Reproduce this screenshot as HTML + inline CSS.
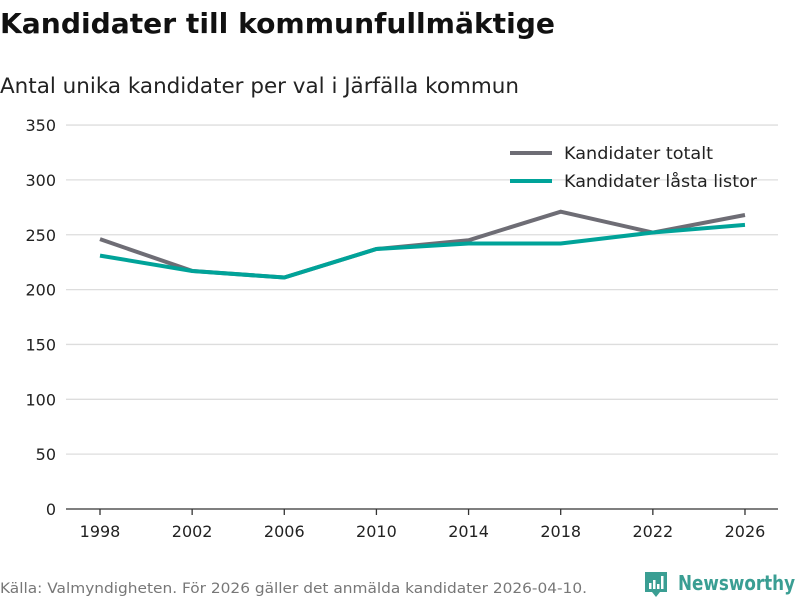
<!DOCTYPE html>
<html><head><meta charset="utf-8"><style>
body{margin:0;background:#fff;font-family:"DejaVu Sans","Liberation Sans",sans-serif;}
svg text{font-family:"DejaVu Sans","Liberation Sans",sans-serif;}
</style></head><body>
<svg id="c" width="800" height="600" xmlns="http://www.w3.org/2000/svg">
<text x="0" y="33" font-size="28" font-weight="bold" fill="#111" textLength="555" lengthAdjust="spacingAndGlyphs">Kandidater till kommunfullmäktige</text>
<text x="0" y="93" font-size="21" fill="#222" textLength="519" lengthAdjust="spacingAndGlyphs">Antal unika kandidater per val i Järfälla kommun</text>
<g id="grid"></g><g id="lines"></g>
<g>
<line x1="510" y1="153" x2="552" y2="153" stroke="#6e6d75" stroke-width="4"/>
<text x="564" y="159" font-size="17" fill="#222" textLength="149" lengthAdjust="spacingAndGlyphs">Kandidater totalt</text>
<line x1="510" y1="181" x2="552" y2="181" stroke="#00a399" stroke-width="4"/>
<text x="564" y="187" font-size="17" fill="#222" textLength="193" lengthAdjust="spacingAndGlyphs">Kandidater låsta listor</text>
</g>
<text x="0" y="593" font-size="14.5" fill="#777" textLength="587" lengthAdjust="spacingAndGlyphs">Källa: Valmyndigheten. För 2026 gäller det anmälda kandidater 2026-04-10.</text>
<g>
<path d="M645 572 h22 v20 h-7 l-4 5 l-4 -5 h-7 z" fill="#3a9e93"/>
<rect x="649" y="583" width="2.5" height="6" fill="#fff"/><rect x="653" y="580" width="2.5" height="9" fill="#fff"/><rect x="657" y="584" width="2.5" height="5" fill="#fff"/><rect x="661" y="576" width="2.5" height="13" fill="#fff"/>
<text x="678" y="590" font-size="20" font-weight="bold" fill="#3a9e93" textLength="117" lengthAdjust="spacingAndGlyphs">Newsworthy</text>
</g>
</svg>
<script>
const years=["1998","2002","2006","2010","2014","2018","2022","2026"];
const totalt=[246,217,211,237,245,271,252,268];
const lasta=[231,217,211,237,242,242,252,259];
const yTicks=[0,50,100,150,200,250,300,350];
const NS="http://www.w3.org/2000/svg";
const x=i=>100+i*92.14;
const y=v=>509-v*1.097;
const grid=document.getElementById('grid'),lines=document.getElementById('lines');
function mk(t,a,p){const e=document.createElementNS(NS,t);for(const k in a)e.setAttribute(k,a[k]);p.appendChild(e);return e;}
yTicks.forEach(v=>{
 const l=mk('line',{x1:66,x2:778,y1:y(v),y2:y(v),stroke:v===0?'#333':'#ddd','stroke-width':1.3},grid);
 
 
 const t=mk('text',{x:56,y:y(v)+6,'font-size':16,fill:'#222','text-anchor':'end'},grid);t.textContent=v;
 
 
});
years.forEach((yr,i)=>{
 const tk=mk('line',{x1:x(i),x2:x(i),y1:509,y2:515,stroke:'#333','stroke-width':1.3},grid);
 
 
 const t=mk('text',{x:x(i),y:537,'font-size':16,fill:'#222','text-anchor':'middle'},grid);t.textContent=yr;
 
 
});
[[totalt,'#6e6d75','line-totalt'],[lasta,'#00a399','line-lasta']].forEach(([d,c,n])=>{
 const p=mk('polyline',{points:d.map((v,i)=>x(i)+','+y(v)).join(' '),fill:'none',stroke:c,'stroke-width':4},lines);
 
 
});
</script>
</body></html>
